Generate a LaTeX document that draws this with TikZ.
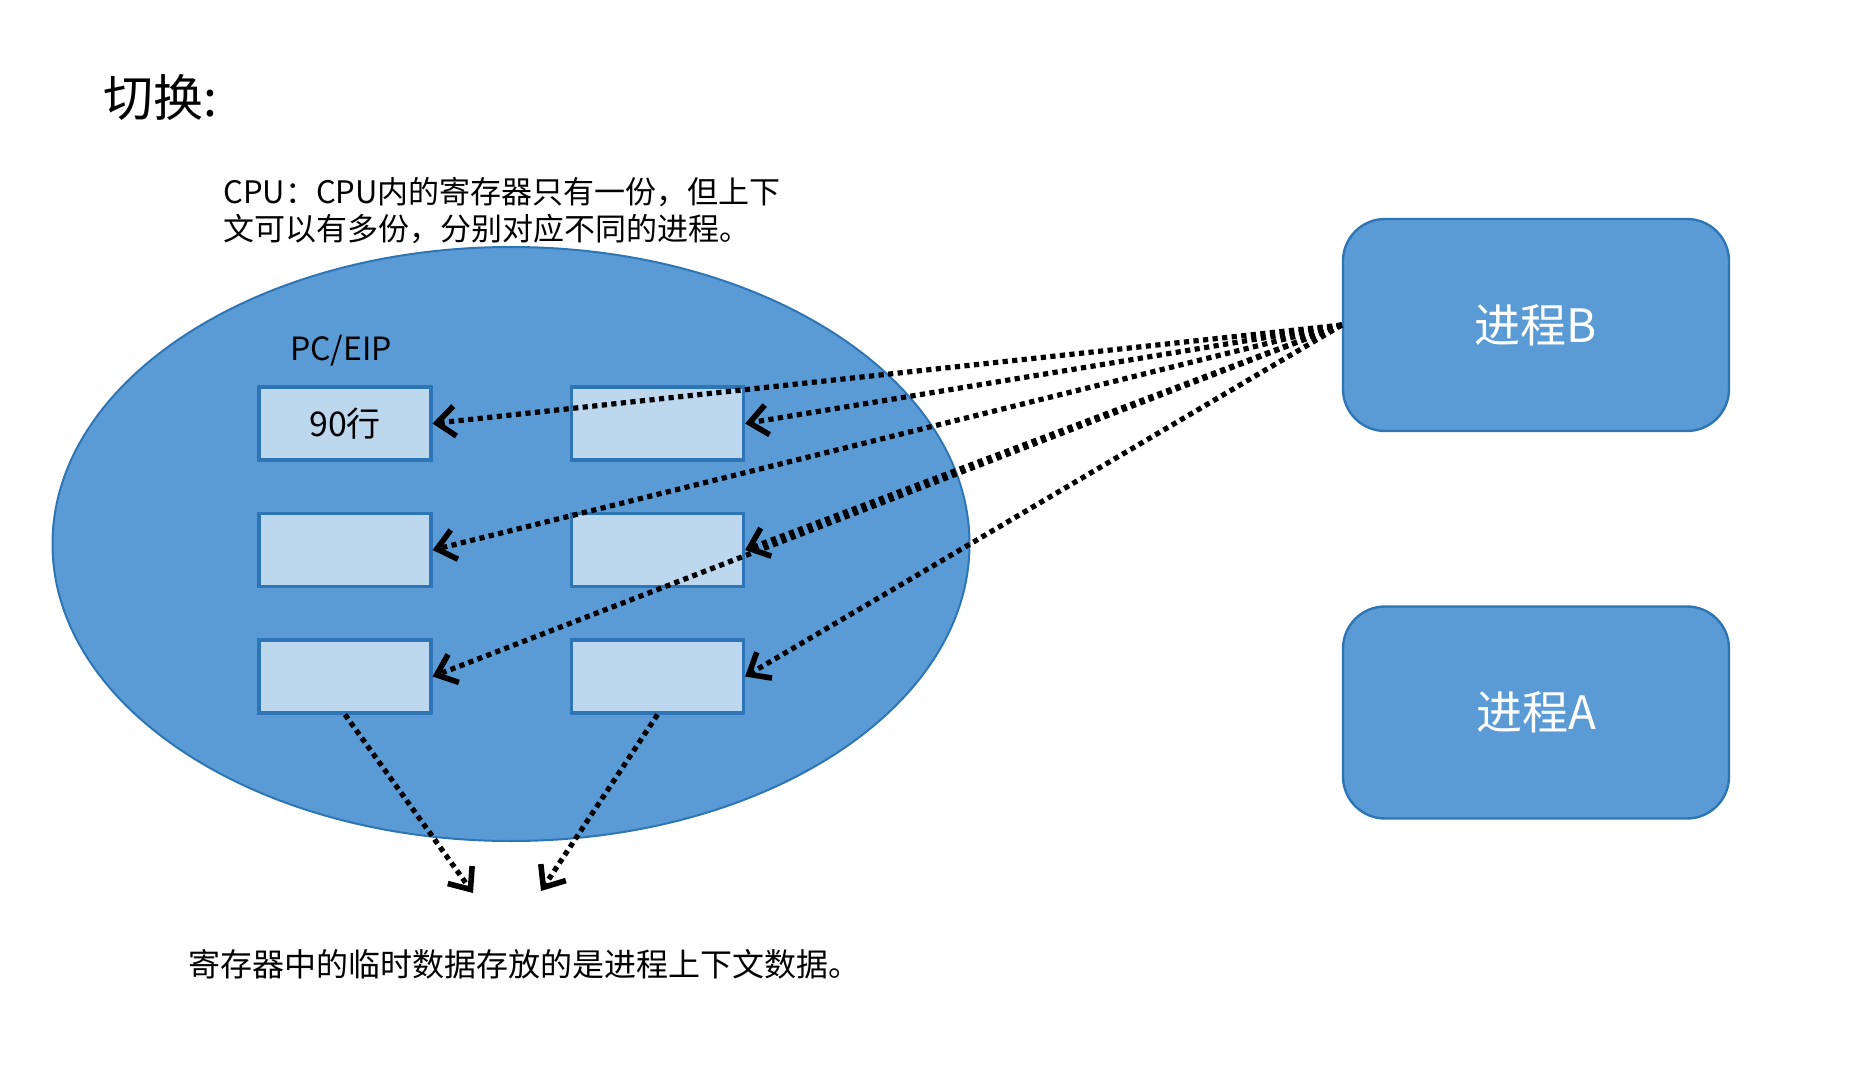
\documentclass[tikz,border=0pt]{standalone}
\usepackage{fontspec}
\setmainfont{Noto Sans CJK SC}
\usepackage{tikz}
\usetikzlibrary{arrows.meta}
\definecolor{cpublue}{RGB}{91,155,213}
\definecolor{edgeblue}{RGB}{46,117,182}
\definecolor{regblue}{RGB}{189,215,238}

\tikzset{
	reg/.style={draw=edgeblue, fill=regblue, line width=1.6pt, minimum width=86pt, minimum height=36.5pt, inner sep=0pt, font=\fontsize{17pt}{20pt}\selectfont},
	proc/.style={draw=edgeblue, fill=cpublue, line width=1.2pt, rounded corners=21pt, minimum width=193pt, minimum height=106pt, inner sep=0pt, text=white, font=\fontsize{23pt}{28pt}\selectfont},
	txt/.style={inner sep=0pt, font=\fontsize{15.5pt}{18.5pt}\selectfont},
	link/.style={line width=2.6pt, dash pattern=on 2.6pt off 2.2pt, -{Straight Barb[length=9pt, width=15pt, line width=2.8pt]}}
}

\begin{document}
\begin{tikzpicture}[x=0.5pt,y=-0.5pt]
	\useasboundingbox (0,0) rectangle (1870,1081);
	
	\coordinate (O) at (511,544);
	\coordinate (P) at (473,893);
	\coordinate (Q) at (541,891);
	
	\draw[edgeblue, fill=cpublue, line width=1pt] (O) ellipse [x radius=229.25pt, y radius=148.5pt];
	
	\node[reg] (R1) at (345,423.5) {90行};
	\node[reg] (R2) at (657.5,423.5) {};
	\node[reg] (R3) at (345,550) {};
	\node[reg] (R4) at (657.5,550) {};
	\node[reg] (R5) at (345,676.5) {};
	\node[reg] (R6) at (657.5,676.5) {};
	
	\node[proc] (B) at (1536,325) {进程B};
	\node[proc] (A) at (1536,712.5) {进程A};
	
	\node[txt, anchor=west, font=\fontsize{25pt}{30pt}\selectfont] (title) at (103,97) {切换:};
	\node[txt, anchor=west, align=left] (note) at (223,211) {CPU：CPU内的寄存器只有一份，但上下\\文可以有多份，分别对应不同的进程。};
	\node[txt, font=\fontsize{16pt}{19pt}\selectfont] (pc) at (341,351) {PC/EIP};
	\node[txt, anchor=west, font=\fontsize{16pt}{19pt}\selectfont] (tail) at (188,964) {寄存器中的临时数据存放的是进程上下文数据。};
	
	\draw[link] (B.west) -- (R1.east);
	\draw[link] (B.west) -- (R2.east);
	\draw[link] (B.west) -- (R3.east);
	\draw[link] (B.west) -- (R4.east);
	\draw[link] (B.west) -- (R5.east);
	\draw[link] (B.west) -- (R6.east);
	\draw[link] (R5.south) -- (P);
	\draw[link] (R6.south) -- (Q);
\end{tikzpicture}
\end{document}
